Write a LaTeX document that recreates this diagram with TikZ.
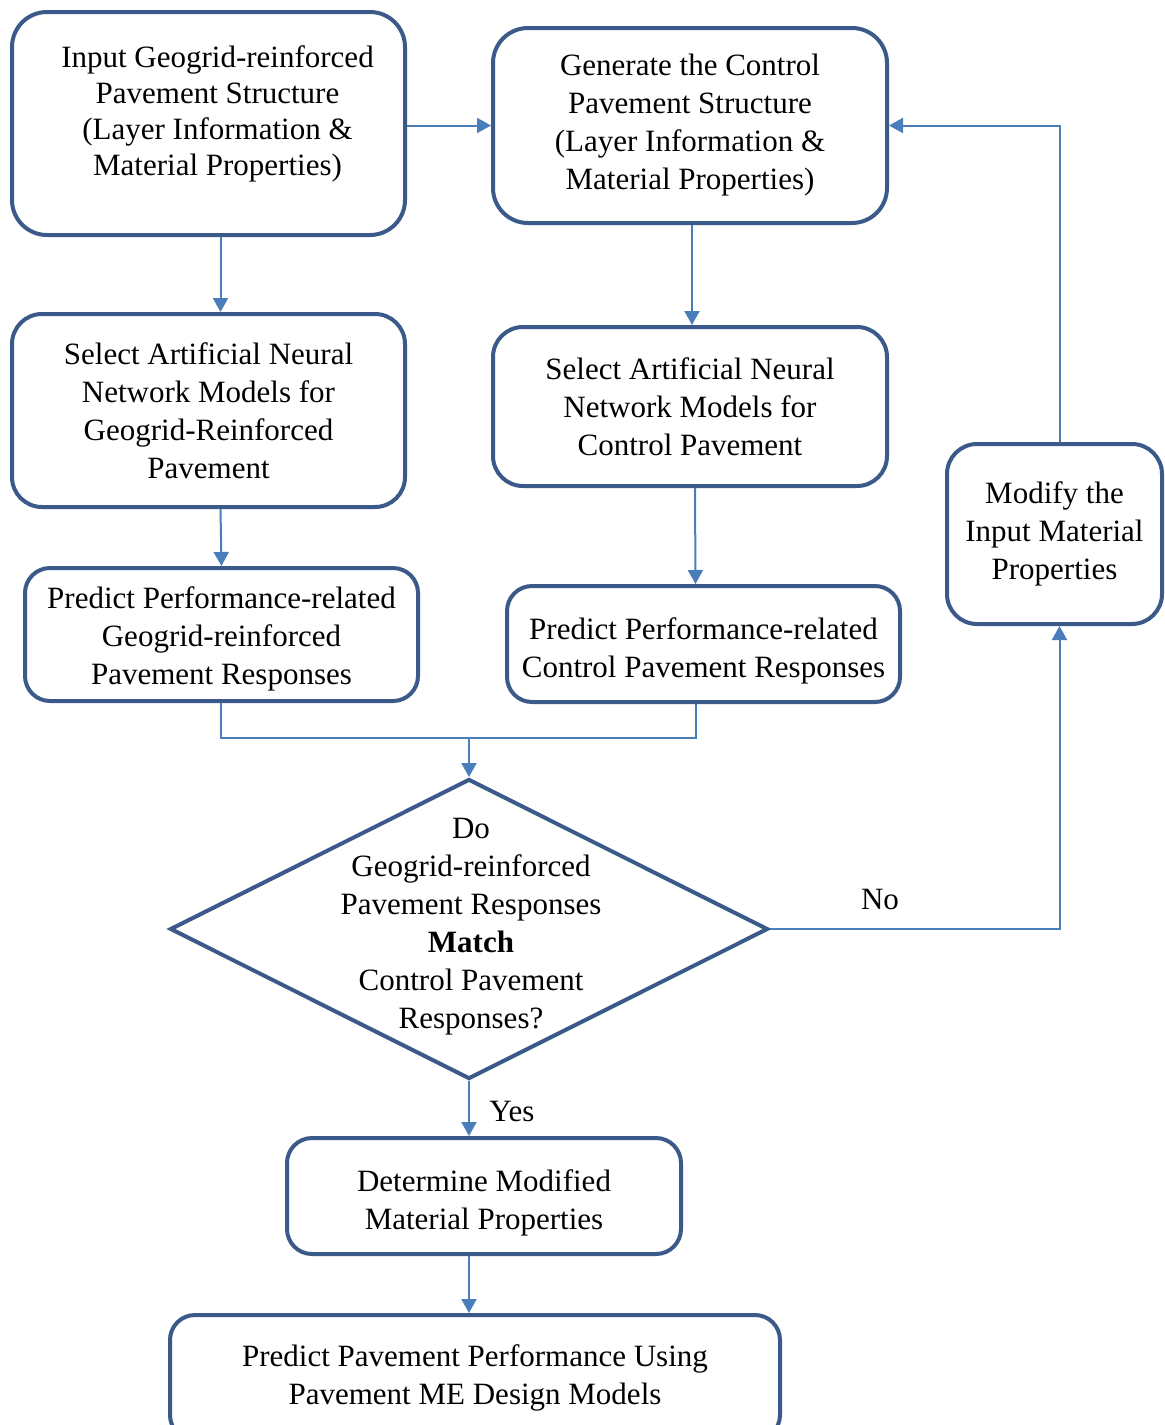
\documentclass[tikz,border=0pt]{standalone}
\usepackage{fontspec}
\setmainfont{Liberation Serif}
\usetikzlibrary{positioning}
\usetikzlibrary{shapes.geometric}
\usetikzlibrary{arrows.meta}
\definecolor{boxblue}{RGB}{59,90,138}
\definecolor{linkblue}{RGB}{74,126,187}

\begin{document}
\begin{tikzpicture}[x=1pt,y=-1pt,
 stepbox/.style={draw=boxblue,line width=4pt,rounded corners=30pt,align=center,inner sep=0pt,font=\fontsize{31}{38}\selectfont},
 plaintext/.style={align=center,inner sep=0pt,font=\fontsize{31}{38}\selectfont},
 link/.style={draw=linkblue,line width=2pt,-{Triangle[length=14pt,width=15pt]}},
 joinline/.style={draw=linkblue,line width=2pt}]
 \useasboundingbox (0,0) rectangle (1165,1425);
 \node[stepbox,rounded corners=35pt,minimum width=393pt,minimum height=223pt] (inputbox) at (208.5,123.5) {};
 \node[plaintext,font=\fontsize{31}{36}\selectfont] (inputtext) at (217.5,113.5) {Input Geogrid-reinforced\\Pavement Structure\\(Layer Information \&\\Material Properties)};
 \node[stepbox,rounded corners=35pt,minimum width=394pt,minimum height=195pt] (genbox) at (690,125.5) {Generate the Control\\Pavement Structure\\(Layer Information \&\\Material Properties)};
 \node[stepbox,minimum width=393pt,minimum height=193pt] (selgeo) at (208.5,410.5) {Select Artificial Neural\\Network Models for\\Geogrid-Reinforced\\Pavement};
 \node[stepbox,minimum width=394pt,minimum height=159pt] (selctl) at (690,406.5) {Select Artificial Neural\\Network Models for\\Control Pavement};
 \node[stepbox,rounded corners=25pt,minimum width=393pt,minimum height=133pt] (predgeo) at (221.5,634.5) {};
 \node[plaintext] (predgeotext) at (221.5,638.5) {Predict Performance-related\\Geogrid-reinforced\\Pavement Responses};
 \node[stepbox,rounded corners=25pt,minimum width=393pt,minimum height=116pt] (predctl) at (703.5,644) {};
 \node[plaintext] (predctltext) at (703.5,651) {Predict Performance-related\\Control Pavement Responses};
 \node[stepbox,minimum width=215pt,minimum height=180pt] (modify) at (1054.5,534) {Modify the\\Input Material\\Properties};
 \node[draw=boxblue,line width=4pt,diamond,minimum width=598pt,minimum height=300pt,inner sep=0pt] (decision) at (469,929) {};
 \node[plaintext] (decisiontext) at (471,927) {Do\\Geogrid-reinforced\\Pavement Responses\\\textbf{Match}\\Control Pavement\\Responses?};
 \node[stepbox,rounded corners=25pt,minimum width=394pt,minimum height=116pt] (detbox) at (484,1196) {};
 \node[plaintext] (dettext) at (484,1203) {Determine Modified\\Material Properties};
 \node[stepbox,rounded corners=25pt,minimum width=610pt,minimum height=125pt] (perfbox) at (475,1377.5) {Predict Pavement Performance Using\\Pavement ME Design Models};
 \node[plaintext] (nolabel) at (880,899) {No};
 \node[plaintext] (yeslabel) at (512,1111) {Yes};
 \coordinate (join) at (469,738);
 \draw[link] (genbox.west -| inputbox.east) -- (genbox.west);
 \draw[link] ([xshift=12pt]inputbox.south) -- ([xshift=12pt]selgeo.north);
 \draw[link] ([xshift=2pt]genbox.south) -- ([xshift=2pt]selctl.north);
 \draw[link] ([xshift=12pt]selgeo.south) -- (predgeo.north);
 \draw[link] ([xshift=5pt]selctl.south) -- ([xshift=-8pt]predctl.north);
 \draw[joinline] ([xshift=-1pt]predgeo.south) |- (join);
 \draw[joinline] ([xshift=-8pt]predctl.south) |- (join);
 \draw[link] (join) -- (decision.north);
 \draw[link] (decision.east) -| ([xshift=5pt]modify.south);
 \draw[link] ([xshift=5pt]modify.north) |- (genbox.east);
 \draw[link] (decision.south) -- (decision.south |- detbox.north);
 \draw[link] (detbox.south -| decision.south) -- (perfbox.north -| decision.south);
\end{tikzpicture}
\end{document}
